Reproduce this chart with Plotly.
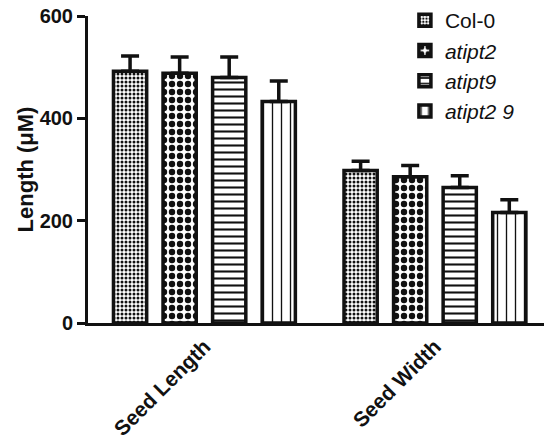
import plotly.graph_objects as go

categories = ["Seed Length", "Seed Width"]
series_names = ["Col-0", "<i>atipt2</i>", "<i>atipt9</i>", "<i>atipt2 9</i>"]
col0 = [492, 298]
col0_err = [30, 18]
atipt2 = [488, 286]
atipt2_err = [32, 22]
atipt9 = [480, 265]
atipt9_err = [40, 23]
atipt2_9 = [433, 216]
atipt2_9_err = [40, 25]
y_ticks = [0, 200, 400, 600]

values = [col0, atipt2, atipt9, atipt2_9]
errors = [col0_err, atipt2_err, atipt9_err, atipt2_9_err]
patterns = [
    dict(shape=".", size=4, solidity=0.45),
    dict(shape=".", size=8, solidity=0.5),
    dict(shape="-", size=7, solidity=0.3),
    dict(shape="|", size=9, solidity=0.15),
]

FONT = "Liberation Sans, Arial, sans-serif"

fig = go.Figure()
for i, (name, vals, errs, pat) in enumerate(zip(series_names, values, errors, patterns)):
    fig.add_trace(go.Bar(
        name=name,
        x=categories,
        y=vals,
        marker=dict(
            color="white",
            line=dict(color="#111", width=3.5),
            pattern=dict(fillmode="replace", fgcolor="#111", bgcolor="white", **pat),
        ),
        error_y=dict(type="data", array=errs, arrayminus=[0] * len(errs), symmetric=False,
                     thickness=3.5, width=9, color="#111"),
    ))

fig.update_layout(
    width=544, height=447,
    margin=dict(l=88, r=0, t=16, b=124, autoexpand=False),
    paper_bgcolor="white", plot_bgcolor="white",
    barmode="group", bargap=0.14, bargroupgap=0.33,
    font=dict(family=FONT, color="#111"),
    showlegend=True,
    legend=dict(x=0.695, y=1.052, xanchor="left", yanchor="top",
                font=dict(family=FONT, size=21, color="#111"),
                bgcolor="rgba(0,0,0,0)", itemwidth=30),
    xaxis=dict(
        range=[-0.505, 1.473],
        showline=True, linewidth=3, linecolor="#111",
        ticks="", tickangle=-45,
        tickfont=dict(family=FONT, size=21, weight="bold", color="#111"),
        showgrid=False, zeroline=False,
    ),
    yaxis=dict(
        range=[0, 600], tickvals=y_ticks,
        showline=True, linewidth=3, linecolor="#111",
        ticks="outside", ticklen=8, tickwidth=3, tickcolor="#111",
        ticklabeloverflow="allow",
        tickfont=dict(family=FONT, size=20, weight="bold", color="#111"),
        showgrid=False, zeroline=False,
        title=dict(text="Length (μM)", standoff=0,
                   font=dict(family=FONT, size=22, weight="bold", color="#111")),
    ),
)

# remove the default 8px page margin so the 544x447 figure fills the window exactly
fig.write_html("out.html",
               config={"displayModeBar": False},
               post_script="document.body.style.margin='0';document.body.style.overflow='hidden';")
